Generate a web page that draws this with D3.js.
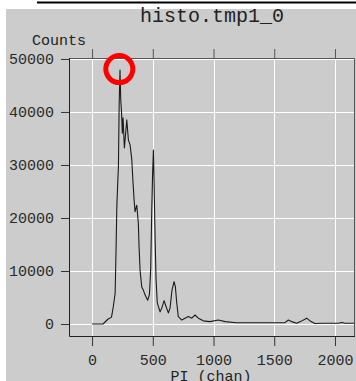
<!DOCTYPE html>
<html>
<head>
<meta charset="utf-8">
<script src="https://cdn.jsdelivr.net/npm/d3@7/dist/d3.min.js"></script>
<style>
  html, body { margin: 0; padding: 0; background: #fff; }
  svg { display: block; }
  text { font-family: "Courier New", "Liberation Mono", monospace; }
</style>
</head>
<body>
<svg id="chart" width="356" height="381"></svg>
<script>
// PI channel histogram
const channels = [0, 90, 130, 160, 175, 190, 198, 204, 212, 217, 223, 230, 236, 243, 249,
  255, 266, 286, 299, 313, 327, 337, 346, 354, 368, 381, 387, 395, 409, 422, 436, 458,
  472, 483, 491, 498, 505, 510, 520, 527, 537, 560, 574, 593, 609, 628, 642, 658, 675,
  686, 697, 710, 738, 765, 793, 821, 848, 875, 916, 971, 1040, 1095, 1191, 1300, 1450,
  1588, 1616, 1650, 1685, 1720, 1767, 1800, 1835, 1900, 1959, 2030, 2055, 2082, 2165];
const counts = [0, 0, 900, 1300, 3300, 5800, 14700, 22300, 27000, 29700, 41300, 47900,
  42300, 39800, 36000, 38900, 33200, 38500, 34700, 33800, 31000, 26800, 23400, 21200,
  22400, 19000, 14600, 10200, 7000, 6400, 5500, 4500, 5500, 10500, 21000, 28000, 32800,
  27000, 15000, 8300, 4000, 2300, 3000, 4400, 3300, 2100, 3000, 6400, 8000, 7000, 4000,
  1400, 750, 1100, 1400, 1100, 1700, 1100, 600, 450, 750, 450, 250, 250, 250, 250, 750,
  400, 130, 500, 1100, 500, 100, 150, 150, 150, 300, 150, 150];
const xTicks = [0, 500, 1000, 1500, 2000];
const yTicks = [0, 10000, 20000, 30000, 40000, 50000];
const title = "histo.tmp1_0";
const xLabel = "PI (chan)";
const yLabel = "Counts";
// channel with the highest count, ringed on the plot
const peakChannel = 230;
const peakCount = 47900;

const svg = d3.select("#chart");

// page backdrop: white margin, rule across the top, grey panel
svg.append("line").attr("x1", 37).attr("x2", 356).attr("y1", 2.5).attr("y2", 2.5)
  .attr("stroke", "#000").attr("stroke-width", 2);
svg.append("rect").attr("x", 6).attr("y", 9).attr("width", 350).attr("height", 372)
  .attr("fill", "#cccccc");

const plot = { left: 69, right: 355, top: 58, bottom: 337 };

const x = d3.scaleLinear().domain([-190, 2165]).range([plot.left, plot.right]);
const y = d3.scaleLinear().domain([-2450, 50180]).range([plot.bottom, plot.top]);

// grid
const grid = svg.append("g");
grid.selectAll(".gx").data(xTicks).join("line")
  .attr("x1", d => Math.round(x(d)) + 0.5).attr("x2", d => Math.round(x(d)) + 0.5)
  .attr("y1", plot.top).attr("y2", plot.bottom)
  .attr("stroke", "#fff").attr("stroke-width", 1);
grid.selectAll(".gy").data(yTicks).join("line")
  .attr("x1", plot.left).attr("x2", plot.right)
  .attr("y1", d => Math.round(y(d)) + 0.5).attr("y2", d => Math.round(y(d)) + 0.5)
  .attr("stroke", "#fff").attr("stroke-width", 1);

// histogram trace
const pts = channels.map((c, i) => [c, counts[i]]);
svg.append("path").datum(pts)
  .attr("d", d3.line().x(d => x(d[0])).y(d => y(d[1])))
  .attr("fill", "none").attr("stroke", "#1a1a1a").attr("stroke-width", 1.1)
  .attr("stroke-linejoin", "round");

// frame
svg.append("path")
  .attr("d", `M${plot.left + 0.5},${plot.top + 0.5}H${plot.right - 0.5}V${plot.bottom - 0.5}`)
  .attr("fill", "none").attr("stroke", "#555").attr("stroke-width", 1);
svg.append("path")
  .attr("d", `M${plot.left + 0.5},${plot.top}V${plot.bottom - 0.5}H${plot.right}`)
  .attr("fill", "none").attr("stroke", "#222").attr("stroke-width", 1);

// axes
const fmt = d3.format("d");
const xAxis = svg.append("g").attr("transform", `translate(0,${plot.bottom})`)
  .call(d3.axisBottom(x).tickValues(xTicks).tickSize(9).tickPadding(8).tickFormat(fmt));
const xTop = svg.append("g").attr("transform", `translate(0,${plot.top})`)
  .call(d3.axisTop(x).tickValues(xTicks).tickSize(9).tickFormat(""));
const yAxis = svg.append("g").attr("transform", `translate(${plot.left},0)`)
  .call(d3.axisLeft(y).tickValues(yTicks).tickSize(8).tickPadding(7).tickFormat(fmt));

[xAxis, xTop, yAxis].forEach(g => {
  g.select(".domain").remove();
  g.selectAll(".tick line").attr("stroke", "#333").attr("stroke-width", 1);
  g.selectAll("text").attr("fill", "#2a2a2a").attr("font-size", 15)
    .attr("font-family", "\"Courier New\", \"Liberation Mono\", monospace");
});
xTop.selectAll(".tick line").attr("stroke", "#555");

// titles
svg.append("text").attr("x", 212).attr("y", 22).attr("text-anchor", "middle")
  .attr("font-size", 20).attr("fill", "#222").text(title);
svg.append("text").attr("x", 59).attr("y", 45).attr("text-anchor", "middle")
  .attr("font-size", 15).attr("fill", "#222").text(yLabel);
svg.append("text").attr("x", 211).attr("y", 381).attr("text-anchor", "middle")
  .attr("font-size", 15).attr("fill", "#222").text(xLabel);

// ring around the peak
svg.append("circle").attr("cx", x(peakChannel) - 0.7).attr("cy", y(peakCount) - 1)
  .attr("r", 13.5).attr("fill", "none").attr("stroke", "#ff0000").attr("stroke-width", 5);
</script>
</body>
</html>
